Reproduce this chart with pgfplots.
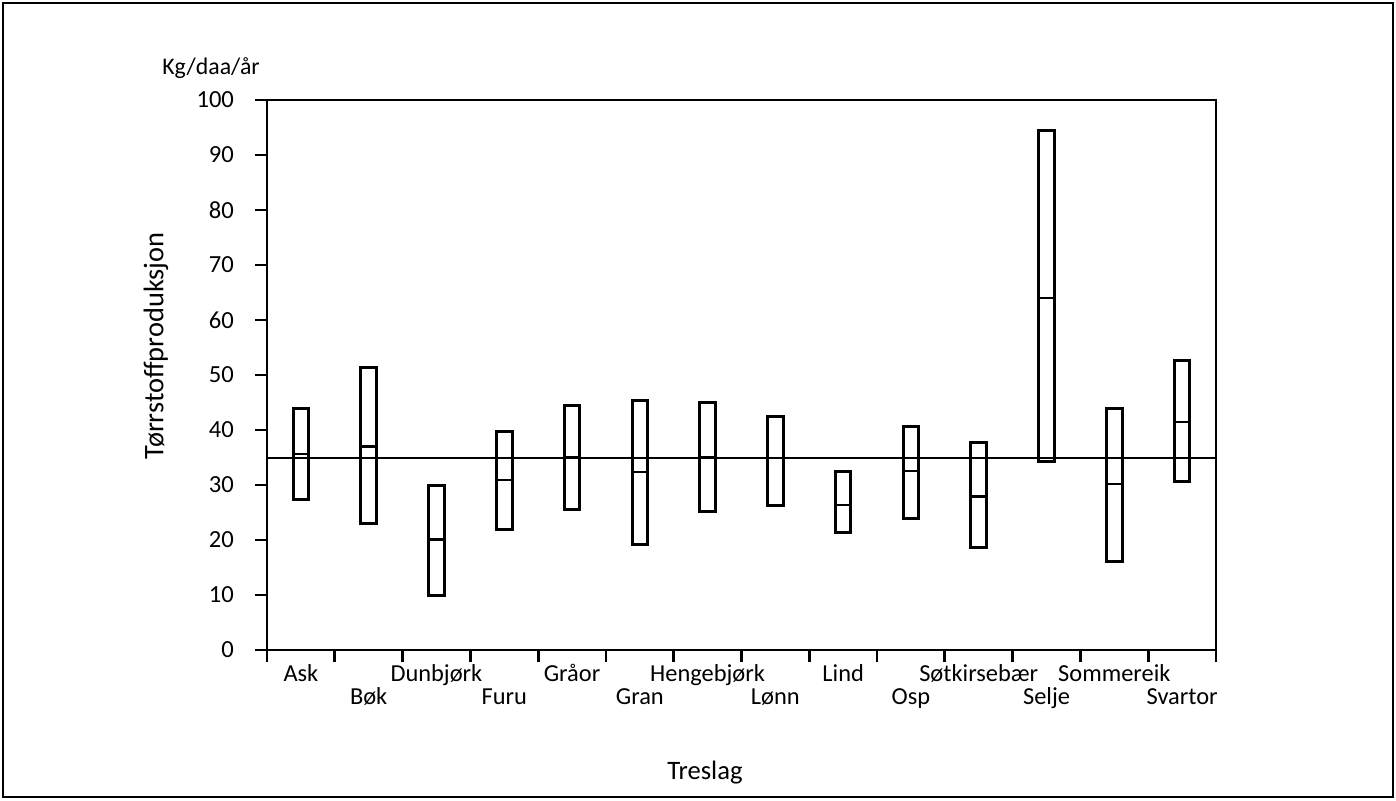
\documentclass[border=0pt]{standalone}
\usepackage{fontspec}
\setmainfont{Carlito}
\usepackage{pgfplots}
\pgfplotsset{compat=1.18}
\usepgfplotslibrary{statistics}

\pgfplotsset{
  bx/.style n args={4}{black, line width=1.5pt, boxplot/draw direction=y, boxplot prepared={
    draw position=#1, box extend=0.23, whisker extend=0.23,
    lower whisker=#2, lower quartile=#2, median=#3,
    upper quartile=#4, upper whisker=#4},
    boxplot/every median/.style={line width=1.1pt}},
}
\newcommand{\dn}[1]{\raisebox{-11.5pt}{#1}}

\begin{document}
\begin{tikzpicture}
\path[use as bounding box] (0,0) rectangle (698pt,400pt);
\fill[white] (0,0) rectangle (698pt,400pt);
\draw[line width=1pt] (1.5pt,1.5pt) rectangle (696.5pt,398.5pt);
\begin{axis}[
  at={(133.5pt,75pt)}, anchor=south west,
  scale only axis, width=474.5pt, height=275pt,
  xmin=-0.5, xmax=13.5, ymin=0, ymax=100,
  axis line style={line width=1.4pt},
  xtick={-0.5,0.5,1.5,2.5,3.5,4.5,5.5,6.5,7.5,8.5,9.5,10.5,11.5,12.5,13.5},
  x tick label as interval,
  xticklabels={Ask,\dn{Bøk},Dunbjørk,\dn{Furu},Gråor,\dn{Gran},Hengebjørk,\dn{Lønn},Lind,\dn{Osp},Søtkirsebær,\dn{Selje},Sommereik,\dn{Svartor}},
  xticklabel style={anchor=north, text height=9pt, text depth=3pt, yshift=3pt, font=\fontsize{12.2}{14}\selectfont},
  ytick={0,10,...,100},
  yticklabel style={xshift=-7pt, font=\fontsize{12.3}{14}\selectfont},
  /pgf/number format/assume math mode=true,
  tick pos=left, tick align=outside, major tick length=6pt,
  every tick/.style={black, line width=1.4pt},
  every axis y label/.style={at={(axis description cs:-0.117,0.553)}, rotate=90, anchor=center, font=\fontsize{14.2}{16}\selectfont},
  ylabel={Tørrstoffproduksjon},
  every axis x label/.style={at={(axis description cs:0.4615,-0.236)}, anchor=base, font=\fontsize{13.3}{15}\selectfont},
  xlabel={Treslag},
  clip=false,
]
\addplot[black, line width=0.9pt] coordinates {(-0.5,34.9) (13.5,34.9)};
\addplot[bx={0}{27.3}{35.7}{44.0}] coordinates {};
\addplot[bx={1}{23.0}{37.0}{51.3}] coordinates {};
\addplot[bx={2}{10.0}{20.1}{30.0}] coordinates {};
\addplot[bx={3}{22.0}{30.9}{39.7}] coordinates {};
\addplot[bx={4}{25.5}{35.1}{44.5}] coordinates {};
\addplot[bx={5}{19.2}{32.4}{45.4}] coordinates {};
\addplot[bx={6}{25.1}{35.1}{45.0}] coordinates {};
\addplot[bx={7}{26.3}{34.9}{42.5}] coordinates {};
\addplot[bx={8}{21.4}{26.4}{32.4}] coordinates {};
\addplot[bx={9}{23.9}{32.5}{40.6}] coordinates {};
\addplot[bx={10}{18.6}{27.9}{37.7}] coordinates {};
\addplot[bx={11}{34.2}{64.0}{94.4}] coordinates {};
\addplot[bx={12}{16.1}{30.2}{44.0}] coordinates {};
\addplot[bx={13}{30.7}{41.5}{52.6}] coordinates {};
\node[anchor=base, font=\fontsize{11.9}{14}\selectfont] at (axis description cs:-0.059,1.0455) {Kg/daa/år};
\end{axis}
\end{tikzpicture}
\end{document}
